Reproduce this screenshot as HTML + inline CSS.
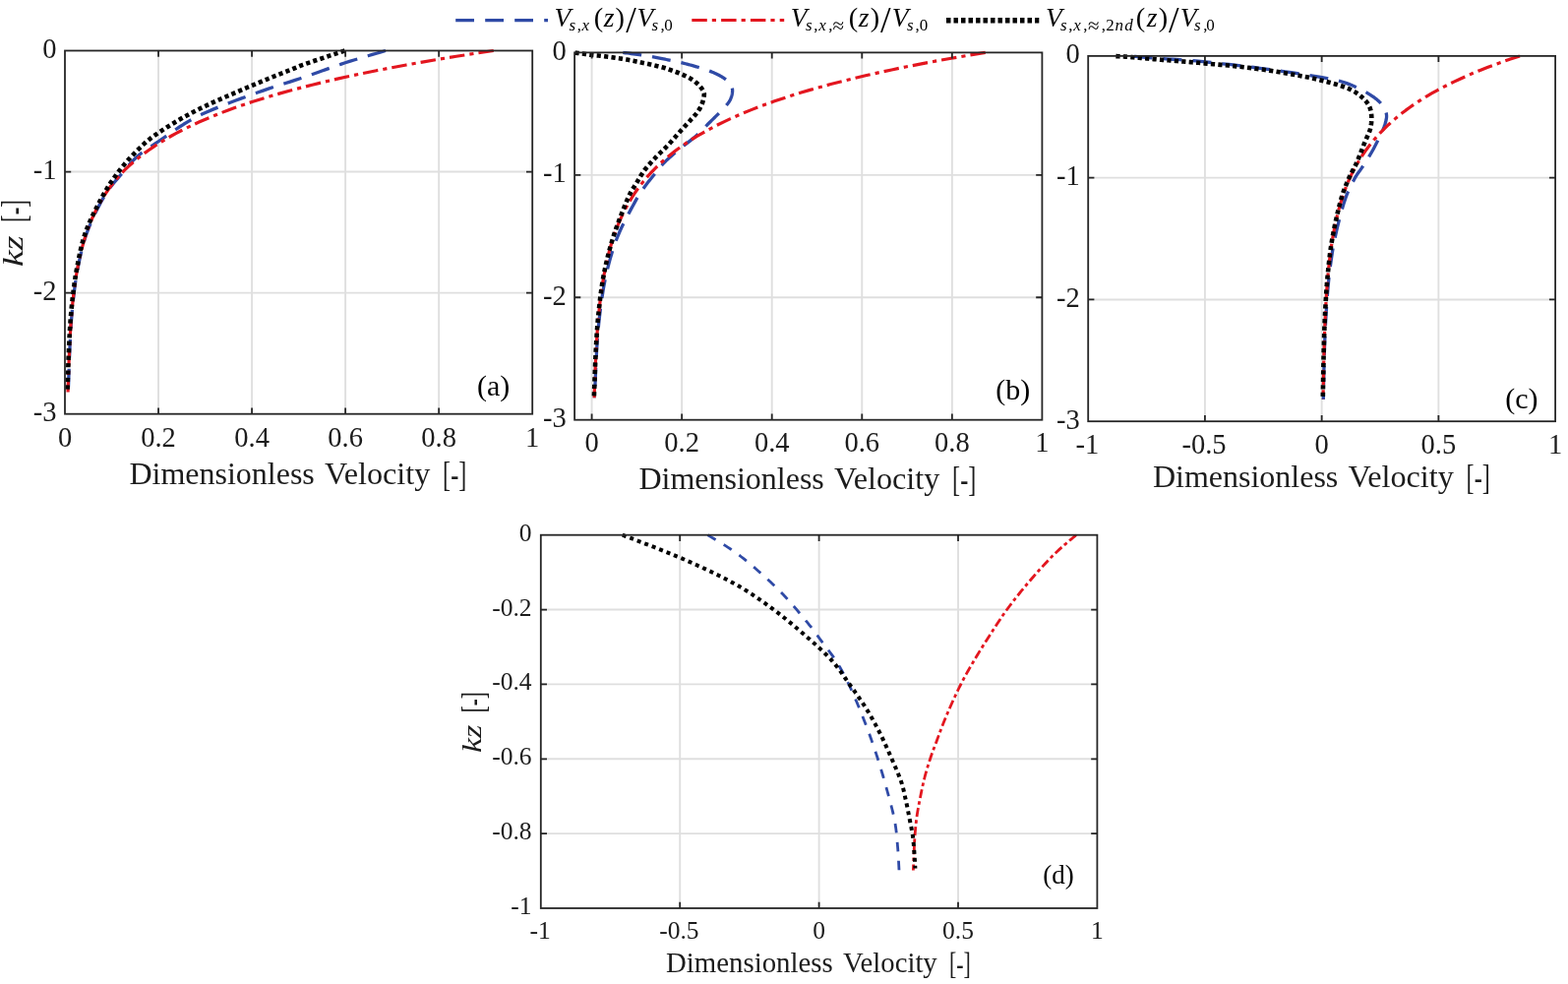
<!DOCTYPE html><html><head><meta charset="utf-8"><title>Dimensionless velocity profiles</title><style>html,body{margin:0;padding:0;background:#fff;}svg{display:block;}text{font-family:"Liberation Serif","DejaVu Serif",serif;fill:#1c1c1c;}</style></head><body>
<svg width="1594" height="1000" viewBox="0 0 1594 1000">
<rect width="1594" height="1000" fill="#fff"/>
<line x1="161.04" y1="51.5" x2="161.04" y2="420.7" stroke="#dfdfdf" stroke-width="1.9"/>
<line x1="256.08" y1="51.5" x2="256.08" y2="420.7" stroke="#dfdfdf" stroke-width="1.9"/>
<line x1="351.12" y1="51.5" x2="351.12" y2="420.7" stroke="#dfdfdf" stroke-width="1.9"/>
<line x1="446.16" y1="51.5" x2="446.16" y2="420.7" stroke="#dfdfdf" stroke-width="1.9"/>
<line x1="66" y1="174.57" x2="541.2" y2="174.57" stroke="#dfdfdf" stroke-width="1.9"/>
<line x1="66" y1="297.63" x2="541.2" y2="297.63" stroke="#dfdfdf" stroke-width="1.9"/>
<line x1="601.59" y1="53.4" x2="601.59" y2="426.7" stroke="#dfdfdf" stroke-width="1.9"/>
<line x1="693.15" y1="53.4" x2="693.15" y2="426.7" stroke="#dfdfdf" stroke-width="1.9"/>
<line x1="784.71" y1="53.4" x2="784.71" y2="426.7" stroke="#dfdfdf" stroke-width="1.9"/>
<line x1="876.28" y1="53.4" x2="876.28" y2="426.7" stroke="#dfdfdf" stroke-width="1.9"/>
<line x1="967.84" y1="53.4" x2="967.84" y2="426.7" stroke="#dfdfdf" stroke-width="1.9"/>
<line x1="584.1" y1="177.83" x2="1059.4" y2="177.83" stroke="#dfdfdf" stroke-width="1.9"/>
<line x1="584.1" y1="302.27" x2="1059.4" y2="302.27" stroke="#dfdfdf" stroke-width="1.9"/>
<line x1="1224.92" y1="56.9" x2="1224.92" y2="428.2" stroke="#dfdfdf" stroke-width="1.9"/>
<line x1="1343.65" y1="56.9" x2="1343.65" y2="428.2" stroke="#dfdfdf" stroke-width="1.9"/>
<line x1="1462.38" y1="56.9" x2="1462.38" y2="428.2" stroke="#dfdfdf" stroke-width="1.9"/>
<line x1="1106.2" y1="180.67" x2="1581.1" y2="180.67" stroke="#dfdfdf" stroke-width="1.9"/>
<line x1="1106.2" y1="304.43" x2="1581.1" y2="304.43" stroke="#dfdfdf" stroke-width="1.9"/>
<line x1="691.2" y1="543.7" x2="691.2" y2="923" stroke="#dfdfdf" stroke-width="1.9"/>
<line x1="832.6" y1="543.7" x2="832.6" y2="923" stroke="#dfdfdf" stroke-width="1.9"/>
<line x1="974" y1="543.7" x2="974" y2="923" stroke="#dfdfdf" stroke-width="1.9"/>
<line x1="549.8" y1="619.56" x2="1115.4" y2="619.56" stroke="#dfdfdf" stroke-width="1.9"/>
<line x1="549.8" y1="695.42" x2="1115.4" y2="695.42" stroke="#dfdfdf" stroke-width="1.9"/>
<line x1="549.8" y1="771.28" x2="1115.4" y2="771.28" stroke="#dfdfdf" stroke-width="1.9"/>
<line x1="549.8" y1="847.14" x2="1115.4" y2="847.14" stroke="#dfdfdf" stroke-width="1.9"/>
<path d="M392 51.5 L389.56 52.22 L386.42 53.14 L382.71 54.22 L378.55 55.44 L374.06 56.76 L369.37 58.15 L364.59 59.58 L359.86 61.02 L355.28 62.43 L351 63.8 L346.96 65.13 L343 66.47 L339.1 67.83 L335.21 69.2 L331.29 70.6 L327.31 72.02 L323.23 73.48 L319.01 74.98 L314.61 76.52 L310 78.1 L305.15 79.72 L300.11 81.38 L294.89 83.06 L289.54 84.78 L284.08 86.54 L278.55 88.34 L272.97 90.18 L267.38 92.07 L261.82 94.01 L256.3 96 L250.73 98.05 L245 100.16 L239.18 102.32 L233.32 104.52 L227.48 106.78 L221.7 109.06 L216.05 111.38 L210.58 113.73 L205.34 116.11 L200.4 118.5 L195.69 120.98 L191.12 123.58 L186.69 126.28 L182.43 129.01 L178.34 131.75 L174.42 134.45 L170.69 137.06 L167.15 139.56 L163.82 141.88 L160.7 144 L157.85 145.89 L155.28 147.58 L152.96 149.11 L150.84 150.52 L148.89 151.84 L147.06 153.12 L145.32 154.39 L143.62 155.68 L141.93 157.04 L140.2 158.5 L138.52 160 L136.96 161.47 L135.51 162.92 L134.12 164.38 L132.77 165.86 L131.43 167.4 L130.06 169.01 L128.64 170.72 L127.13 172.54 L125.5 174.5 L123.75 176.56 L121.91 178.69 L120.01 180.88 L118.05 183.16 L116.06 185.53 L114.05 188.01 L112.04 190.61 L110.06 193.33 L108.12 196.18 L106.23 199.18 L104.36 202.38 L102.45 205.79 L100.54 209.36 L98.63 213.07 L96.75 216.88 L94.92 220.75 L93.16 224.64 L91.49 228.53 L89.93 232.36 L88.5 236.1 L87.19 239.8 L86 243.49 L84.9 247.18 L83.89 250.87 L82.96 254.57 L82.09 258.26 L81.27 261.95 L80.49 265.64 L79.74 269.33 L79.01 273.03 L78.31 276.72 L77.67 280.41 L77.08 284.1 L76.54 287.79 L76.04 291.49 L75.58 295.18 L75.14 298.87 L74.72 302.56 L74.32 306.25 L73.93 309.95 L73.57 313.57 L73.24 317.09 L72.94 320.56 L72.67 324.01 L72.41 327.48 L72.18 331.04 L71.95 334.71 L71.73 338.54 L71.51 342.58 L71.29 346.87 L71.05 351.67 L70.82 357.09 L70.59 362.92 L70.37 368.96 L70.15 375.02 L69.95 380.89 L69.76 386.38 L69.6 391.29 L69.46 395.42 L69.35 398.56" fill="none" stroke="#2f4aa6" stroke-width="3.3" stroke-dasharray="19 11" stroke-dashoffset="0" stroke-linecap="butt" stroke-linejoin="round"/>
<path d="M501.76 51.5 L482.42 54.39 L463.91 57.28 L446.19 60.18 L429.23 63.07 L413.01 65.96 L397.48 68.85 L382.62 71.74 L368.41 74.64 L354.81 77.53 L341.8 80.42 L329.36 83.31 L317.45 86.2 L306.07 89.1 L295.19 91.99 L284.78 94.88 L274.83 97.77 L265.31 100.67 L256.22 103.56 L247.52 106.45 L239.21 109.34 L231.27 112.23 L223.68 115.13 L216.43 118.02 L209.5 120.91 L202.87 123.8 L196.55 126.69 L190.5 129.59 L184.73 132.48 L179.21 135.37 L173.95 138.26 L168.92 141.15 L164.12 144.05 L159.53 146.94 L155.15 149.83 L150.97 152.72 L146.98 155.61 L143.17 158.51 L139.54 161.4 L136.07 164.29 L132.76 167.18 L129.6 170.07 L126.58 172.97 L123.76 175.86 L121.13 178.75 L118.62 181.64 L116.23 184.54 L113.96 187.43 L111.78 190.32 L109.71 193.21 L107.73 196.1 L105.85 199 L104.05 201.89 L102.34 204.78 L100.7 207.67 L99.15 210.56 L97.66 213.46 L96.25 216.35 L94.9 219.24 L93.61 222.13 L92.38 225.02 L91.21 227.92 L90.1 230.81 L89.04 233.7 L88.03 236.59 L87.06 239.48 L86.14 242.38 L85.27 245.27 L84.43 248.16 L83.64 251.05 L82.88 253.94 L82.16 256.84 L81.47 259.73 L80.81 262.62 L80.19 265.51 L79.6 268.4 L79.03 271.3 L78.49 274.19 L77.98 277.08 L77.49 279.97 L77.03 282.87 L76.58 285.76 L76.16 288.65 L75.76 291.54 L75.38 294.43 L75.02 297.33 L74.67 300.22 L74.35 303.11 L74.03 306 L73.74 308.89 L73.46 311.79 L73.19 314.68 L72.93 317.57 L72.69 320.46 L72.46 323.35 L72.25 326.25 L72.04 329.14 L71.84 332.03 L71.66 334.92 L71.48 337.81 L71.31 340.71 L71.15 343.6 L71 346.49 L70.86 349.38 L70.73 352.27 L70.6 355.17 L70.48 358.06 L70.35 360.95 L70.22 363.84 L70.1 366.74 L69.98 369.63 L69.86 372.52 L69.75 375.41 L69.65 378.3 L69.55 381.2 L69.46 384.09 L69.37 386.98 L69.28 389.87 L69.2 392.76 L69.12 395.66 L69.05 398.55" fill="none" stroke="#e3161f" stroke-width="3.2" stroke-dasharray="15.5 5 4.2 5.1" stroke-dashoffset="0" stroke-linecap="butt" stroke-linejoin="round"/>
<path d="M350.5 51.5 L347.95 52.35 L344.5 53.5 L340.37 54.88 L335.75 56.42 L330.88 58.05 L325.95 59.7 L321.18 61.3 L316.8 62.78 L313 64.07 L310 65.1 L307.92 65.83 L306.59 66.3 L305.82 66.57 L305.42 66.73 L305.2 66.84 L304.96 66.97 L304.52 67.2 L303.67 67.58 L302.23 68.19 L300 69.1 L297.05 70.28 L293.61 71.65 L289.75 73.17 L285.53 74.84 L281.02 76.64 L276.28 78.54 L271.37 80.52 L266.36 82.57 L261.32 84.67 L256.3 86.8 L251.13 89.01 L245.64 91.36 L239.92 93.81 L234.04 96.35 L228.1 98.94 L222.18 101.56 L216.36 104.19 L210.74 106.79 L205.39 109.33 L200.4 111.8 L195.69 114.23 L191.12 116.68 L186.69 119.14 L182.43 121.58 L178.34 124 L174.42 126.38 L170.69 128.7 L167.15 130.96 L163.82 133.13 L160.7 135.2 L157.87 137.14 L155.36 138.92 L153.11 140.6 L151.08 142.21 L149.2 143.77 L147.42 145.33 L145.69 146.91 L143.94 148.56 L142.13 150.31 L140.2 152.2 L138.18 154.2 L136.16 156.27 L134.13 158.4 L132.11 160.58 L130.1 162.82 L128.11 165.1 L126.15 167.41 L124.22 169.75 L122.34 172.12 L120.5 174.5 L118.72 176.87 L117 179.23 L115.33 181.58 L113.69 183.96 L112.08 186.39 L110.48 188.88 L108.89 191.47 L107.28 194.17 L105.66 197.01 L104 200 L102.28 203.18 L100.5 206.53 L98.68 210.03 L96.84 213.64 L95.02 217.34 L93.24 221.1 L91.52 224.88 L89.88 228.66 L88.37 232.41 L87 236.1 L85.76 239.76 L84.64 243.44 L83.61 247.12 L82.67 250.81 L81.81 254.51 L81 258.22 L80.24 261.92 L79.51 265.63 L78.8 269.33 L78.11 273.03 L77.43 276.72 L76.81 280.41 L76.23 284.1 L75.69 287.79 L75.18 291.49 L74.71 295.18 L74.26 298.87 L73.83 302.56 L73.43 306.25 L73.03 309.95 L72.67 313.57 L72.34 317.09 L72.04 320.56 L71.77 324.01 L71.51 327.48 L71.28 331.04 L71.05 334.71 L70.83 338.54 L70.61 342.58 L70.39 346.87 L70.15 351.67 L69.92 357.09 L69.69 362.92 L69.47 368.96 L69.25 375.02 L69.05 380.89 L68.86 386.38 L68.7 391.29 L68.56 395.42 L68.45 398.56" fill="none" stroke="#000000" stroke-width="4.6" stroke-dasharray="4.2 3.25" stroke-dashoffset="0" stroke-linecap="butt" stroke-linejoin="round"/>
<path d="M633.3 53.4 L634.41 53.55 L635.88 53.74 L637.63 53.96 L639.59 54.22 L641.68 54.49 L643.83 54.77 L645.96 55.05 L648 55.32 L649.87 55.57 L651.5 55.8 L652.91 56 L654.2 56.19 L655.4 56.36 L656.51 56.52 L657.58 56.69 L658.61 56.85 L659.65 57.02 L660.71 57.2 L661.82 57.39 L663 57.6 L664.23 57.82 L665.46 58.06 L666.7 58.3 L667.95 58.54 L669.22 58.8 L670.51 59.06 L671.83 59.34 L673.18 59.62 L674.57 59.9 L676 60.2 L677.48 60.5 L679.01 60.82 L680.58 61.14 L682.18 61.46 L683.81 61.8 L685.46 62.14 L687.11 62.5 L688.75 62.86 L690.39 63.22 L692 63.6 L693.6 63.98 L695.2 64.37 L696.8 64.76 L698.4 65.16 L700 65.58 L701.6 66 L703.2 66.43 L704.8 66.87 L706.4 67.33 L708 67.8 L709.62 68.29 L711.26 68.79 L712.92 69.3 L714.58 69.83 L716.24 70.36 L717.87 70.91 L719.48 71.47 L721.04 72.04 L722.55 72.61 L724 73.2 L725.4 73.8 L726.77 74.41 L728.12 75.03 L729.42 75.67 L730.69 76.31 L731.91 76.96 L733.07 77.62 L734.18 78.28 L735.22 78.94 L736.2 79.6 L737.11 80.26 L737.96 80.94 L738.74 81.62 L739.47 82.3 L740.15 82.99 L740.77 83.68 L741.35 84.36 L741.88 85.05 L742.36 85.73 L742.8 86.4 L743.2 87.06 L743.54 87.69 L743.84 88.31 L744.09 88.92 L744.29 89.54 L744.44 90.17 L744.55 90.82 L744.61 91.5 L744.63 92.23 L744.6 93 L744.53 93.82 L744.42 94.69 L744.27 95.6 L744.07 96.54 L743.83 97.5 L743.53 98.48 L743.18 99.46 L742.78 100.45 L742.32 101.43 L741.8 102.4 L741.22 103.35 L740.58 104.29 L739.88 105.22 L739.13 106.15 L738.32 107.09 L737.47 108.04 L736.57 109.03 L735.62 110.04 L734.63 111.1 L733.6 112.2 L732.51 113.36 L731.33 114.57 L730.1 115.82 L728.81 117.1 L727.49 118.41 L726.14 119.74 L724.78 121.07 L723.43 122.39 L722.1 123.71 L720.8 125 L719.53 126.28 L718.29 127.56 L717.06 128.84 L715.83 130.12 L714.6 131.41 L713.35 132.69 L712.08 133.97 L710.76 135.25 L709.41 136.52 L708 137.8 L706.53 139.07 L705 140.33 L703.44 141.58 L701.83 142.82 L700.2 144.08 L698.55 145.33 L696.9 146.6 L695.25 147.88 L693.61 149.18 L692 150.5 L690.38 151.85 L688.72 153.23 L687.05 154.63 L685.37 156.04 L683.7 157.46 L682.05 158.89 L680.45 160.31 L678.89 161.72 L677.41 163.12 L676 164.5 L674.68 165.86 L673.43 167.22 L672.24 168.58 L671.1 169.92 L670 171.26 L668.93 172.59 L667.89 173.91 L666.86 175.22 L665.83 176.52 L664.8 177.8 L663.77 179.06 L662.76 180.29 L661.77 181.5 L660.8 182.7 L659.84 183.89 L658.9 185.09 L657.96 186.29 L657.04 187.5 L656.12 188.74 L655.2 190 L654.34 191.19 L653.56 192.23 L652.83 193.2 L652.13 194.16 L651.41 195.17 L650.64 196.31 L649.8 197.63 L648.85 199.21 L647.76 201.11 L646.5 203.4 L645.01 206.12 L643.31 209.23 L641.44 212.66 L639.46 216.35 L637.41 220.23 L635.35 224.22 L633.33 228.27 L631.39 232.3 L629.6 236.25 L627.99 240.05 L626.54 243.75 L625.18 247.47 L623.9 251.19 L622.69 254.93 L621.55 258.67 L620.47 262.41 L619.44 266.15 L618.46 269.9 L617.53 273.64 L616.63 277.37 L615.78 281.11 L615 284.84 L614.28 288.57 L613.61 292.31 L612.99 296.04 L612.41 299.77 L611.86 303.5 L611.33 307.24 L610.83 310.97 L610.34 314.7 L609.87 318.37 L609.44 321.93 L609.05 325.43 L608.69 328.92 L608.35 332.43 L608.03 336.03 L607.72 339.74 L607.43 343.61 L607.13 347.69 L606.84 352.03 L606.55 356.89 L606.25 362.36 L605.96 368.26 L605.68 374.37 L605.42 380.5 L605.17 386.43 L604.94 391.99 L604.74 396.95 L604.57 401.12 L604.43 404.29" fill="none" stroke="#2f4aa6" stroke-width="3.3" stroke-dasharray="19 11" stroke-dashoffset="0" stroke-linecap="butt" stroke-linejoin="round"/>
<path d="M1001.72 53.4 L983.97 56.32 L967.02 59.25 L950.81 62.17 L935.33 65.1 L920.53 68.02 L906.39 70.95 L892.87 73.87 L879.96 76.79 L867.61 79.72 L855.82 82.64 L844.54 85.57 L833.77 88.49 L823.48 91.41 L813.64 94.34 L804.23 97.26 L795.25 100.19 L786.66 103.11 L778.45 106.04 L770.61 108.96 L763.12 111.88 L755.95 114.81 L749.11 117.73 L742.57 120.66 L736.32 123.58 L730.34 126.5 L724.63 129.43 L719.18 132.35 L713.96 135.28 L708.98 138.2 L704.22 141.13 L699.67 144.05 L695.32 146.97 L691.16 149.9 L687.19 152.82 L683.39 155.75 L679.77 158.67 L676.3 161.59 L672.99 164.52 L669.82 167.44 L666.8 170.37 L663.91 173.29 L661.14 176.22 L658.51 179.14 L656 182.06 L653.6 184.99 L651.3 187.91 L649.11 190.84 L647.02 193.76 L645.02 196.68 L643.11 199.61 L641.29 202.53 L639.55 205.46 L637.88 208.38 L636.29 211.31 L634.77 214.23 L633.32 217.15 L631.93 220.08 L630.61 223 L629.34 225.93 L628.13 228.85 L626.98 231.78 L625.87 234.7 L624.82 237.62 L623.81 240.55 L622.85 243.47 L621.93 246.4 L621.06 249.32 L620.22 252.24 L619.42 255.17 L618.66 258.09 L617.93 261.02 L617.23 263.94 L616.57 266.87 L615.93 269.79 L615.33 272.71 L614.75 275.64 L614.2 278.56 L613.67 281.49 L613.17 284.41 L612.68 287.33 L612.23 290.26 L611.79 293.18 L611.37 296.11 L610.97 299.03 L610.59 301.96 L610.23 304.88 L609.88 307.8 L609.55 310.73 L609.24 313.65 L608.94 316.58 L608.65 319.5 L608.37 322.42 L608.11 325.35 L607.86 328.27 L607.63 331.2 L607.4 334.12 L607.19 337.05 L606.98 339.97 L606.78 342.89 L606.6 345.82 L606.42 348.74 L606.25 351.67 L606.09 354.59 L605.94 357.52 L605.79 360.44 L605.65 363.36 L605.51 366.29 L605.37 369.21 L605.24 372.14 L605.11 375.06 L604.99 377.98 L604.88 380.91 L604.77 383.83 L604.66 386.76 L604.56 389.68 L604.46 392.61 L604.37 395.53 L604.28 398.45 L604.2 401.38 L604.12 404.3" fill="none" stroke="#e3161f" stroke-width="3.2" stroke-dasharray="15.5 5 4.2 5.1" stroke-dashoffset="0" stroke-linecap="butt" stroke-linejoin="round"/>
<path d="M584.5 53.6 L585.02 53.67 L585.7 53.75 L586.51 53.85 L587.41 53.96 L588.38 54.08 L589.39 54.21 L590.4 54.34 L591.4 54.46 L592.34 54.59 L593.2 54.7 L594 54.81 L594.78 54.93 L595.54 55.04 L596.29 55.16 L597.03 55.27 L597.76 55.39 L598.49 55.5 L599.22 55.61 L599.96 55.71 L600.7 55.8 L601.45 55.89 L602.2 55.96 L602.96 56.03 L603.71 56.1 L604.47 56.16 L605.22 56.22 L605.97 56.29 L606.72 56.35 L607.46 56.42 L608.2 56.5 L608.93 56.58 L609.65 56.67 L610.37 56.75 L611.08 56.84 L611.79 56.93 L612.51 57.02 L613.22 57.12 L613.94 57.21 L614.67 57.31 L615.4 57.4 L616.15 57.5 L616.9 57.59 L617.66 57.69 L618.43 57.79 L619.2 57.89 L619.97 58 L620.74 58.1 L621.5 58.2 L622.25 58.3 L623 58.4 L623.74 58.5 L624.47 58.6 L625.19 58.69 L625.91 58.79 L626.62 58.89 L627.34 58.99 L628.05 59.09 L628.77 59.19 L629.48 59.29 L630.2 59.4 L630.92 59.51 L631.64 59.62 L632.36 59.74 L633.08 59.86 L633.8 59.98 L634.52 60.1 L635.24 60.22 L635.96 60.34 L636.68 60.47 L637.4 60.6 L638.12 60.73 L638.84 60.86 L639.55 61 L640.27 61.14 L640.98 61.27 L641.7 61.42 L642.42 61.56 L643.14 61.7 L643.87 61.85 L644.6 62 L645.34 62.15 L646.08 62.31 L646.83 62.47 L647.59 62.63 L648.34 62.79 L649.1 62.96 L649.86 63.12 L650.61 63.28 L651.36 63.44 L652.1 63.6 L652.84 63.75 L653.57 63.9 L654.31 64.05 L655.04 64.2 L655.77 64.34 L656.5 64.49 L657.22 64.64 L657.95 64.79 L658.67 64.94 L659.4 65.1 L660.12 65.26 L660.84 65.43 L661.56 65.59 L662.27 65.76 L662.99 65.93 L663.7 66.1 L664.42 66.28 L665.14 66.45 L665.87 66.63 L666.6 66.8 L667.35 66.98 L668.11 67.15 L668.88 67.33 L669.66 67.51 L670.43 67.69 L671.2 67.87 L671.96 68.05 L672.7 68.23 L673.41 68.42 L674.1 68.6 L674.73 68.77 L675.28 68.93 L675.8 69.08 L676.28 69.23 L676.77 69.38 L677.28 69.55 L677.83 69.74 L678.46 69.95 L679.17 70.2 L680 70.5 L680.96 70.84 L682.03 71.22 L683.18 71.63 L684.41 72.06 L685.68 72.53 L686.98 73 L688.28 73.49 L689.57 73.99 L690.81 74.5 L692 75 L693.16 75.51 L694.32 76.03 L695.48 76.56 L696.64 77.1 L697.78 77.66 L698.9 78.22 L699.99 78.78 L701.04 79.35 L702.05 79.93 L703 80.5 L703.9 81.08 L704.77 81.66 L705.6 82.25 L706.39 82.84 L707.14 83.44 L707.87 84.04 L708.57 84.65 L709.24 85.26 L709.88 85.88 L710.5 86.5 L711.1 87.14 L711.69 87.79 L712.25 88.46 L712.79 89.14 L713.29 89.81 L713.76 90.48 L714.19 91.14 L714.58 91.79 L714.92 92.41 L715.2 93 L715.43 93.55 L715.6 94.05 L715.71 94.52 L715.79 94.96 L715.83 95.41 L715.83 95.86 L715.8 96.33 L715.75 96.83 L715.68 97.39 L715.6 98 L715.5 98.68 L715.38 99.41 L715.23 100.18 L715.06 100.98 L714.86 101.81 L714.63 102.66 L714.39 103.51 L714.11 104.35 L713.82 105.19 L713.5 106 L713.16 106.8 L712.8 107.59 L712.42 108.38 L712.01 109.18 L711.58 109.97 L711.12 110.76 L710.64 111.56 L710.12 112.37 L709.58 113.18 L709 114 L708.39 114.82 L707.74 115.64 L707.06 116.45 L706.35 117.27 L705.62 118.09 L704.86 118.93 L704.07 119.79 L703.27 120.66 L702.44 121.57 L701.6 122.5 L700.74 123.45 L699.87 124.41 L698.98 125.38 L698.07 126.37 L697.14 127.38 L696.18 128.42 L695.18 129.5 L694.16 130.62 L693.1 131.78 L692 133 L690.85 134.29 L689.64 135.66 L688.4 137.08 L687.11 138.56 L685.8 140.06 L684.47 141.57 L683.14 143.07 L681.81 144.56 L680.49 146.01 L679.2 147.4 L677.91 148.74 L676.61 150.06 L675.31 151.36 L674 152.64 L672.7 153.9 L671.4 155.16 L670.12 156.41 L668.86 157.67 L667.62 158.93 L666.4 160.2 L665.2 161.48 L664.01 162.76 L662.82 164.04 L661.65 165.32 L660.5 166.6 L659.37 167.88 L658.27 169.16 L657.21 170.44 L656.18 171.72 L655.2 173 L654.27 174.27 L653.41 175.51 L652.6 176.74 L651.82 177.97 L651.06 179.2 L650.32 180.45 L649.57 181.72 L648.81 183.04 L648.03 184.39 L647.2 185.8 L646.37 187.17 L645.55 188.44 L644.75 189.66 L643.94 190.9 L643.11 192.21 L642.24 193.64 L641.34 195.26 L640.37 197.13 L639.33 199.28 L638.2 201.8 L636.95 204.73 L635.57 208.04 L634.1 211.67 L632.56 215.54 L630.98 219.59 L629.4 223.75 L627.86 227.94 L626.37 232.1 L624.97 236.16 L623.69 240.05 L622.52 243.81 L621.4 247.57 L620.33 251.31 L619.31 255.04 L618.33 258.77 L617.41 262.49 L616.53 266.2 L615.69 269.92 L614.89 273.65 L614.13 277.37 L613.41 281.11 L612.76 284.84 L612.15 288.57 L611.59 292.31 L611.07 296.04 L610.58 299.77 L610.11 303.5 L609.67 307.24 L609.25 310.97 L608.84 314.7 L608.45 318.37 L608.09 321.93 L607.77 325.43 L607.47 328.92 L607.19 332.43 L606.93 336.03 L606.68 339.74 L606.43 343.61 L606.19 347.69 L605.94 352.03 L605.69 356.89 L605.44 362.36 L605.18 368.26 L604.94 374.37 L604.71 380.5 L604.49 386.43 L604.29 391.99 L604.11 396.95 L603.95 401.12 L603.83 404.29" fill="none" stroke="#000000" stroke-width="4.6" stroke-dasharray="4.2 3.25" stroke-dashoffset="0" stroke-linecap="butt" stroke-linejoin="round"/>
<path d="M1152.6 57.3 L1154.31 57.43 L1156.45 57.6 L1158.97 57.81 L1161.81 58.03 L1164.89 58.27 L1168.17 58.53 L1171.59 58.8 L1175.07 59.07 L1178.56 59.34 L1182 59.6 L1185.38 59.84 L1188.77 60.06 L1192.2 60.27 L1195.7 60.49 L1199.32 60.71 L1203.1 60.96 L1207.07 61.24 L1211.27 61.57 L1215.73 61.95 L1220.5 62.4 L1225.64 62.92 L1231.15 63.49 L1236.96 64.11 L1243.01 64.77 L1249.24 65.47 L1255.57 66.21 L1261.95 66.96 L1268.31 67.73 L1274.58 68.51 L1280.7 69.3 L1286.86 70.11 L1293.24 70.96 L1299.73 71.85 L1306.26 72.76 L1312.73 73.67 L1319.05 74.6 L1325.13 75.51 L1330.87 76.41 L1336.19 77.27 L1341 78.1 L1345.25 78.86 L1349.02 79.55 L1352.38 80.2 L1355.41 80.82 L1358.19 81.44 L1360.8 82.08 L1363.32 82.78 L1365.82 83.55 L1368.39 84.41 L1371.1 85.4 L1373.94 86.52 L1376.81 87.74 L1379.69 89.06 L1382.53 90.45 L1385.32 91.89 L1388.01 93.37 L1390.58 94.86 L1392.98 96.34 L1395.2 97.79 L1397.2 99.2 L1398.99 100.58 L1400.62 101.95 L1402.09 103.32 L1403.41 104.7 L1404.59 106.07 L1405.64 107.44 L1406.55 108.82 L1407.35 110.21 L1408.03 111.6 L1408.6 113 L1409.05 114.37 L1409.36 115.67 L1409.54 116.94 L1409.59 118.21 L1409.52 119.51 L1409.34 120.85 L1409.05 122.27 L1408.66 123.8 L1408.18 125.47 L1407.6 127.3 L1406.88 129.34 L1405.98 131.59 L1404.93 134 L1403.77 136.52 L1402.53 139.11 L1401.24 141.72 L1399.93 144.3 L1398.63 146.81 L1397.37 149.19 L1396.2 151.4 L1395.06 153.48 L1393.91 155.5 L1392.75 157.46 L1391.59 159.36 L1390.44 161.21 L1389.3 162.99 L1388.19 164.71 L1387.12 166.37 L1386.08 167.96 L1385.1 169.5 L1384.18 170.9 L1383.33 172.13 L1382.54 173.23 L1381.77 174.25 L1381.03 175.25 L1380.3 176.27 L1379.55 177.35 L1378.78 178.55 L1377.97 179.92 L1377.1 181.5 L1376.18 183.23 L1375.23 185 L1374.25 186.86 L1373.25 188.8 L1372.23 190.87 L1371.21 193.06 L1370.17 195.41 L1369.14 197.94 L1368.11 200.66 L1367.1 203.6 L1366.07 206.82 L1365.01 210.34 L1363.93 214.11 L1362.84 218.06 L1361.76 222.14 L1360.7 226.3 L1359.67 230.47 L1358.7 234.61 L1357.79 238.66 L1356.96 242.56 L1356.2 246.34 L1355.49 250.1 L1354.84 253.83 L1354.24 257.54 L1353.68 261.23 L1353.15 264.92 L1352.66 268.6 L1352.18 272.29 L1351.73 275.98 L1351.29 279.69 L1350.87 283.4 L1350.49 287.11 L1350.14 290.83 L1349.82 294.54 L1349.52 298.25 L1349.24 301.96 L1348.98 305.68 L1348.73 309.39 L1348.48 313.1 L1348.24 316.82 L1348.01 320.46 L1347.8 324.01 L1347.6 327.49 L1347.42 330.96 L1347.25 334.45 L1347.08 338.03 L1346.93 341.72 L1346.78 345.57 L1346.63 349.63 L1346.48 353.95 L1346.33 358.78 L1346.18 364.23 L1346.04 370.09 L1345.9 376.17 L1345.77 382.26 L1345.64 388.17 L1345.53 393.69 L1345.43 398.62 L1345.34 402.77 L1345.27 405.93" fill="none" stroke="#2f4aa6" stroke-width="3.3" stroke-dasharray="19 11" stroke-dashoffset="0" stroke-linecap="butt" stroke-linejoin="round"/>
<path d="M1545.01 56.9 L1536.21 59.81 L1527.79 62.72 L1519.72 65.63 L1512 68.53 L1504.61 71.44 L1497.53 74.35 L1490.76 77.26 L1484.28 80.17 L1478.07 83.08 L1472.14 85.99 L1466.45 88.89 L1461.02 91.8 L1455.81 94.71 L1450.84 97.62 L1446.07 100.53 L1441.52 103.44 L1437.16 106.34 L1432.99 109.25 L1429 112.16 L1425.19 115.07 L1421.54 117.98 L1418.05 120.89 L1414.71 123.8 L1411.52 126.7 L1408.47 129.61 L1405.55 132.52 L1402.76 135.43 L1400.09 138.34 L1397.54 141.25 L1395.11 144.16 L1392.78 147.06 L1390.55 149.97 L1388.42 152.88 L1386.39 155.79 L1384.44 158.7 L1382.59 161.61 L1380.81 164.52 L1379.11 167.42 L1377.49 170.33 L1375.94 173.24 L1374.47 176.15 L1373.05 179.06 L1371.72 181.97 L1370.47 184.87 L1369.28 187.78 L1368.14 190.69 L1367.06 193.6 L1366.02 196.51 L1365.03 199.42 L1364.09 202.33 L1363.18 205.23 L1362.32 208.14 L1361.5 211.05 L1360.71 213.96 L1359.96 216.87 L1359.25 219.78 L1358.56 222.69 L1357.91 225.59 L1357.29 228.5 L1356.69 231.41 L1356.13 234.32 L1355.58 237.23 L1355.07 240.14 L1354.57 243.05 L1354.1 245.95 L1353.65 248.86 L1353.22 251.77 L1352.82 254.68 L1352.42 257.59 L1352.05 260.5 L1351.7 263.4 L1351.36 266.31 L1351.03 269.22 L1350.73 272.13 L1350.43 275.04 L1350.15 277.95 L1349.88 280.86 L1349.63 283.76 L1349.38 286.67 L1349.15 289.58 L1348.93 292.49 L1348.72 295.4 L1348.52 298.31 L1348.33 301.22 L1348.14 304.12 L1347.97 307.03 L1347.8 309.94 L1347.65 312.85 L1347.5 315.76 L1347.35 318.67 L1347.22 321.58 L1347.09 324.48 L1346.96 327.39 L1346.85 330.3 L1346.73 333.21 L1346.63 336.12 L1346.53 339.03 L1346.43 341.93 L1346.34 344.84 L1346.25 347.75 L1346.17 350.66 L1346.09 353.57 L1346.01 356.48 L1345.94 359.39 L1345.87 362.29 L1345.81 365.2 L1345.74 368.11 L1345.68 371.02 L1345.61 373.93 L1345.55 376.84 L1345.49 379.75 L1345.44 382.65 L1345.39 385.56 L1345.33 388.47 L1345.29 391.38 L1345.24 394.29 L1345.2 397.2 L1345.15 400.1 L1345.11 403.01 L1345.07 405.92" fill="none" stroke="#e3161f" stroke-width="3.2" stroke-dasharray="15.5 5 4.2 5.1" stroke-dashoffset="0" stroke-linecap="butt" stroke-linejoin="round"/>
<path d="M1134.4 57.1 L1135.28 57.15 L1136.41 57.22 L1137.75 57.29 L1139.24 57.38 L1140.86 57.47 L1142.56 57.57 L1144.28 57.67 L1145.99 57.78 L1147.65 57.89 L1149.2 58 L1150.69 58.11 L1152.19 58.23 L1153.69 58.36 L1155.2 58.49 L1156.7 58.62 L1158.2 58.76 L1159.71 58.9 L1161.21 59.03 L1162.71 59.17 L1164.2 59.3 L1165.69 59.43 L1167.17 59.56 L1168.65 59.69 L1170.12 59.82 L1171.6 59.96 L1173.08 60.09 L1174.55 60.22 L1176.03 60.35 L1177.51 60.47 L1179 60.6 L1180.49 60.72 L1181.99 60.85 L1183.49 60.97 L1185 61.09 L1186.5 61.21 L1188 61.32 L1189.51 61.44 L1191.01 61.56 L1192.51 61.68 L1194 61.8 L1195.48 61.92 L1196.96 62.04 L1198.43 62.15 L1199.89 62.27 L1201.36 62.39 L1202.82 62.51 L1204.3 62.63 L1205.79 62.75 L1207.28 62.87 L1208.8 63 L1210.24 63.12 L1211.56 63.24 L1212.8 63.34 L1214.04 63.45 L1215.32 63.56 L1216.71 63.69 L1218.26 63.83 L1220.04 63.99 L1222.1 64.18 L1224.5 64.4 L1227.27 64.65 L1230.35 64.92 L1233.7 65.21 L1237.27 65.52 L1241.02 65.84 L1244.89 66.19 L1248.83 66.56 L1252.79 66.95 L1256.73 67.37 L1260.6 67.8 L1264.45 68.25 L1268.38 68.73 L1272.36 69.22 L1276.38 69.74 L1280.44 70.27 L1284.52 70.83 L1288.61 71.41 L1292.69 72.02 L1296.76 72.65 L1300.8 73.3 L1304.87 73.98 L1309 74.69 L1313.18 75.43 L1317.36 76.19 L1321.53 76.97 L1325.65 77.78 L1329.68 78.59 L1333.61 79.42 L1337.39 80.26 L1341 81.1 L1344.48 81.95 L1347.89 82.81 L1351.22 83.67 L1354.44 84.56 L1357.56 85.45 L1360.56 86.36 L1363.42 87.29 L1366.14 88.24 L1368.71 89.21 L1371.1 90.2 L1373.31 91.22 L1375.35 92.27 L1377.24 93.34 L1378.97 94.42 L1380.57 95.53 L1382.06 96.65 L1383.44 97.78 L1384.73 98.92 L1385.95 100.06 L1387.1 101.2 L1388.16 102.33 L1389.12 103.44 L1389.96 104.54 L1390.71 105.65 L1391.36 106.77 L1391.94 107.92 L1392.44 109.1 L1392.88 110.34 L1393.26 111.63 L1393.6 113 L1393.88 114.45 L1394.09 115.98 L1394.22 117.57 L1394.3 119.21 L1394.3 120.88 L1394.24 122.58 L1394.12 124.28 L1393.94 125.98 L1393.7 127.66 L1393.4 129.3 L1393.02 130.9 L1392.56 132.47 L1392.01 134.02 L1391.4 135.56 L1390.74 137.11 L1390.04 138.68 L1389.31 140.28 L1388.57 141.93 L1387.83 143.63 L1387.1 145.4 L1386.37 147.27 L1385.61 149.23 L1384.82 151.27 L1384.02 153.35 L1383.21 155.46 L1382.38 157.56 L1381.55 159.65 L1380.73 161.68 L1379.91 163.64 L1379.1 165.5 L1378.3 167.24 L1377.5 168.86 L1376.7 170.41 L1375.9 171.9 L1375.11 173.38 L1374.31 174.86 L1373.51 176.38 L1372.71 177.98 L1371.9 179.67 L1371.1 181.5 L1370.3 183.39 L1369.5 185.26 L1368.69 187.15 L1367.89 189.09 L1367.09 191.12 L1366.28 193.25 L1365.47 195.54 L1364.66 198 L1363.83 200.68 L1363 203.6 L1362.14 206.82 L1361.24 210.34 L1360.32 214.11 L1359.39 218.06 L1358.46 222.14 L1357.55 226.3 L1356.67 230.47 L1355.84 234.61 L1355.06 238.66 L1354.36 242.56 L1353.72 246.34 L1353.13 250.1 L1352.6 253.83 L1352.1 257.54 L1351.64 261.23 L1351.21 264.92 L1350.81 268.6 L1350.42 272.29 L1350.05 275.98 L1349.69 279.69 L1349.34 283.4 L1349.03 287.11 L1348.73 290.83 L1348.46 294.54 L1348.21 298.25 L1347.98 301.96 L1347.75 305.68 L1347.54 309.39 L1347.34 313.1 L1347.14 316.82 L1346.96 320.46 L1346.79 324.01 L1346.64 327.49 L1346.5 330.96 L1346.36 334.45 L1346.24 338.03 L1346.12 341.72 L1346.01 345.57 L1345.9 349.63 L1345.78 353.95 L1345.66 358.78 L1345.54 364.23 L1345.42 370.09 L1345.3 376.17 L1345.19 382.26 L1345.09 388.17 L1344.99 393.69 L1344.9 398.62 L1344.83 402.77 L1344.77 405.93" fill="none" stroke="#000000" stroke-width="4.6" stroke-dasharray="4.2 3.25" stroke-dashoffset="0" stroke-linecap="butt" stroke-linejoin="round"/>
<path d="M719.4 543.7 L720.98 544.66 L723.01 545.87 L725.42 547.3 L728.13 548.9 L731.04 550.64 L734.07 552.49 L737.15 554.39 L740.19 556.32 L743.1 558.24 L745.8 560.1 L748.36 561.94 L750.89 563.82 L753.4 565.74 L755.89 567.7 L758.38 569.69 L760.85 571.72 L763.33 573.78 L765.81 575.88 L768.3 578.02 L770.8 580.2 L773.31 582.41 L775.83 584.64 L778.35 586.91 L780.88 589.21 L783.4 591.55 L785.92 593.94 L788.45 596.37 L790.97 598.85 L793.49 601.4 L796 604 L798.55 606.72 L801.17 609.6 L803.83 612.58 L806.49 615.62 L809.13 618.69 L811.72 621.74 L814.23 624.72 L816.64 627.61 L818.9 630.35 L821 632.9 L822.91 635.26 L824.66 637.46 L826.26 639.54 L827.76 641.51 L829.17 643.42 L830.54 645.28 L831.89 647.14 L833.24 649 L834.64 650.92 L836.1 652.9 L837.61 654.91 L839.12 656.89 L840.64 658.85 L842.16 660.81 L843.67 662.79 L845.18 664.81 L846.68 666.87 L848.17 668.99 L849.64 671.2 L851.1 673.5 L852.53 675.87 L853.93 678.27 L855.32 680.72 L856.69 683.22 L858.05 685.79 L859.41 688.43 L860.78 691.17 L862.17 694 L863.57 696.94 L865 700 L866.47 703.22 L867.98 706.62 L869.51 710.16 L871.06 713.81 L872.62 717.53 L874.16 721.29 L875.69 725.05 L877.17 728.78 L878.62 732.44 L880 736 L881.33 739.48 L882.62 742.93 L883.88 746.35 L885.11 749.74 L886.31 753.12 L887.49 756.5 L888.64 759.86 L889.78 763.23 L890.89 766.61 L892 770 L893.09 773.42 L894.17 776.86 L895.23 780.33 L896.26 783.79 L897.28 787.25 L898.28 790.69 L899.25 794.09 L900.19 797.46 L901.11 800.76 L902 804 L902.87 807.18 L903.73 810.32 L904.58 813.42 L905.4 816.48 L906.19 819.5 L906.94 822.48 L907.66 825.42 L908.33 828.32 L908.94 831.18 L909.5 834 L909.99 836.77 L910.41 839.48 L910.78 842.14 L911.1 844.76 L911.38 847.34 L911.62 849.9 L911.85 852.44 L912.07 854.96 L912.28 857.48 L912.5 860 L912.72 862.62 L912.92 865.39 L913.11 868.23 L913.28 871.08 L913.44 873.88 L913.58 876.54 L913.71 879 L913.82 881.19 L913.92 883.05 L914 884.5" fill="none" stroke="#2f4aa6" stroke-width="2.8" stroke-dasharray="9.5 9.5" stroke-dashoffset="0" stroke-linecap="butt" stroke-linejoin="round"/>
<path d="M1094 543.7 L1092.7 544.82 L1091.04 546.22 L1089.08 547.86 L1086.88 549.71 L1084.5 551.73 L1082 553.87 L1079.44 556.11 L1076.88 558.4 L1074.38 560.71 L1072 563 L1069.68 565.31 L1067.33 567.71 L1064.95 570.18 L1062.54 572.73 L1060.12 575.33 L1057.7 577.99 L1055.26 580.69 L1052.83 583.44 L1050.41 586.21 L1048 589 L1045.58 591.84 L1043.14 594.74 L1040.67 597.71 L1038.21 600.71 L1035.75 603.75 L1033.31 606.81 L1030.91 609.87 L1028.54 612.94 L1026.24 615.98 L1024 619 L1021.82 622.02 L1019.68 625.06 L1017.58 628.13 L1015.52 631.19 L1013.5 634.25 L1011.52 637.29 L1009.58 640.29 L1007.68 643.26 L1005.82 646.16 L1004 649 L1002.22 651.79 L1000.46 654.55 L998.75 657.28 L997.07 659.98 L995.44 662.62 L993.85 665.22 L992.31 667.77 L990.82 670.25 L989.38 672.66 L988 675 L986.69 677.24 L985.46 679.38 L984.29 681.44 L983.17 683.43 L982.09 685.38 L981.05 687.29 L980.03 689.19 L979.02 691.1 L978.02 693.03 L977 695 L975.98 697 L974.99 699 L974.01 701 L973.04 703 L972.09 705 L971.16 707 L970.23 709 L969.31 711 L968.4 713 L967.5 715 L966.61 717 L965.72 719 L964.84 721 L963.98 723 L963.12 725 L962.28 727 L961.45 729 L960.62 731 L959.8 733 L959 735 L958.2 737.02 L957.4 739.08 L956.61 741.16 L955.83 743.24 L955.06 745.31 L954.31 747.36 L953.57 749.37 L952.86 751.32 L952.16 753.2 L951.5 755 L950.87 756.68 L950.28 758.24 L949.72 759.71 L949.18 761.12 L948.66 762.5 L948.14 763.88 L947.62 765.29 L947.1 766.76 L946.56 768.32 L946 770 L945.41 771.8 L944.81 773.68 L944.19 775.63 L943.56 777.64 L942.93 779.69 L942.31 781.76 L941.7 783.84 L941.11 785.92 L940.54 787.98 L940 790 L939.49 792 L939 794 L938.54 796 L938.09 798 L937.65 800 L937.23 802 L936.81 804 L936.4 806 L936 808 L935.6 810 L935.2 812 L934.8 814 L934.41 816 L934.03 818 L933.65 820 L933.29 822 L932.94 824 L932.6 826 L932.29 828 L932 830 L931.73 832 L931.48 834 L931.25 836 L931.04 838 L930.84 840 L930.65 842 L930.48 844 L930.31 846 L930.15 848 L930 850 L929.86 852.02 L929.73 854.09 L929.61 856.17 L929.51 858.26 L929.41 860.34 L929.32 862.4 L929.24 864.4 L929.16 866.35 L929.08 868.22 L929 870 L928.92 871.74 L928.84 873.48 L928.77 875.21 L928.7 876.89 L928.64 878.5 L928.58 880.01 L928.52 881.39 L928.48 882.62 L928.43 883.66 L928.4 884.5" fill="none" stroke="#e3161f" stroke-width="2.8" stroke-dasharray="9 3.3 3.6 3.3" stroke-dashoffset="0" stroke-linecap="butt" stroke-linejoin="round"/>
<path d="M632.8 543.7 L636.24 545.03 L640.69 546.73 L645.94 548.73 L651.84 550.97 L658.19 553.41 L664.82 555.97 L671.55 558.61 L678.19 561.27 L684.57 563.88 L690.5 566.4 L696.2 568.88 L701.96 571.43 L707.75 574.02 L713.52 576.66 L719.25 579.32 L724.89 582 L730.4 584.69 L735.75 587.38 L740.9 590.05 L745.8 592.7 L750.45 595.33 L754.87 597.94 L759.1 600.54 L763.17 603.14 L767.11 605.74 L770.95 608.36 L774.72 611 L778.44 613.66 L782.16 616.36 L785.9 619.1 L789.66 621.9 L793.4 624.78 L797.11 627.72 L800.78 630.68 L804.39 633.66 L807.92 636.62 L811.36 639.54 L814.7 642.42 L817.92 645.21 L821 647.9 L823.95 650.49 L826.78 652.99 L829.49 655.42 L832.11 657.8 L834.62 660.14 L837.06 662.45 L839.41 664.76 L841.7 667.08 L843.93 669.42 L846.1 671.8 L848.19 674.21 L850.16 676.62 L852.04 679.04 L853.85 681.47 L855.59 683.89 L857.29 686.32 L858.96 688.75 L860.62 691.17 L862.3 693.59 L864 696 L865.72 698.41 L867.44 700.81 L869.15 703.21 L870.84 705.61 L872.52 708.01 L874.18 710.41 L875.81 712.81 L877.41 715.2 L878.98 717.6 L880.5 720 L881.98 722.39 L883.42 724.77 L884.82 727.14 L886.19 729.5 L887.53 731.88 L888.85 734.26 L890.15 736.65 L891.44 739.07 L892.72 741.52 L894 744 L895.27 746.53 L896.53 749.1 L897.77 751.72 L899 754.35 L900.22 757 L901.42 759.65 L902.59 762.28 L903.75 764.9 L904.89 767.47 L906 770 L907.1 772.5 L908.21 774.99 L909.3 777.47 L910.38 779.94 L911.44 782.38 L912.46 784.78 L913.43 787.16 L914.35 789.49 L915.21 791.77 L916 794 L916.71 796.16 L917.34 798.26 L917.9 800.29 L918.41 802.29 L918.88 804.25 L919.31 806.19 L919.73 808.13 L920.14 810.06 L920.56 812.02 L921 814 L921.45 816.02 L921.88 818.06 L922.31 820.13 L922.72 822.19 L923.12 824.25 L923.52 826.29 L923.9 828.29 L924.28 830.26 L924.64 832.16 L925 834 L925.35 835.76 L925.69 837.46 L926.02 839.09 L926.35 840.69 L926.66 842.25 L926.96 843.79 L927.25 845.33 L927.52 846.86 L927.77 848.42 L928 850 L928.21 851.6 L928.39 853.19 L928.55 854.78 L928.69 856.38 L928.83 857.97 L928.95 859.56 L929.06 861.16 L929.17 862.77 L929.28 864.38 L929.4 866 L929.52 867.7 L929.64 869.53 L929.76 871.43 L929.88 873.36 L929.99 875.25 L930.09 877.06 L930.19 878.75 L930.27 880.25 L930.34 881.52 L930.4 882.5" fill="none" stroke="#000000" stroke-width="4.0" stroke-dasharray="4 4" stroke-dashoffset="0" stroke-linecap="butt" stroke-linejoin="round"/>
<rect x="66" y="51.5" width="475.2" height="369.2" fill="none" stroke="#262626" stroke-width="1.8"/>
<path d="M161.04 420.7v-6.2 M161.04 51.5v6.2 M256.08 420.7v-6.2 M256.08 51.5v6.2 M351.12 420.7v-6.2 M351.12 51.5v6.2 M446.16 420.7v-6.2 M446.16 51.5v6.2 M66 174.57h6.2 M541.2 174.57h-6.2 M66 297.63h6.2 M541.2 297.63h-6.2 " stroke="#262626" stroke-width="1.8" fill="none"/>
<rect x="584.1" y="53.4" width="475.3" height="373.3" fill="none" stroke="#262626" stroke-width="1.8"/>
<path d="M601.59 426.7v-6.2 M601.59 53.4v6.2 M693.15 426.7v-6.2 M693.15 53.4v6.2 M784.71 426.7v-6.2 M784.71 53.4v6.2 M876.28 426.7v-6.2 M876.28 53.4v6.2 M967.84 426.7v-6.2 M967.84 53.4v6.2 M584.1 177.83h6.2 M1059.4 177.83h-6.2 M584.1 302.27h6.2 M1059.4 302.27h-6.2 " stroke="#262626" stroke-width="1.8" fill="none"/>
<rect x="1106.2" y="56.9" width="474.9" height="371.3" fill="none" stroke="#262626" stroke-width="1.8"/>
<path d="M1224.92 428.2v-6.2 M1224.92 56.9v6.2 M1343.65 428.2v-6.2 M1343.65 56.9v6.2 M1462.38 428.2v-6.2 M1462.38 56.9v6.2 M1106.2 180.67h6.2 M1581.1 180.67h-6.2 M1106.2 304.43h6.2 M1581.1 304.43h-6.2 " stroke="#262626" stroke-width="1.8" fill="none"/>
<rect x="549.8" y="543.7" width="565.6" height="379.3" fill="none" stroke="#262626" stroke-width="1.8"/>
<path d="M691.2 923v-6.2 M691.2 543.7v6.2 M832.6 923v-6.2 M832.6 543.7v6.2 M974 923v-6.2 M974 543.7v6.2 M549.8 619.56h6.2 M1115.4 619.56h-6.2 M549.8 695.42h6.2 M1115.4 695.42h-6.2 M549.8 771.28h6.2 M1115.4 771.28h-6.2 M549.8 847.14h6.2 M1115.4 847.14h-6.2 " stroke="#262626" stroke-width="1.8" fill="none"/>
<text x="66" y="453.7" font-size="28.5" text-anchor="middle">0</text>
<text x="161.04" y="453.7" font-size="28.5" text-anchor="middle">0.2</text>
<text x="256.08" y="453.7" font-size="28.5" text-anchor="middle">0.4</text>
<text x="351.12" y="453.7" font-size="28.5" text-anchor="middle">0.6</text>
<text x="446.16" y="453.7" font-size="28.5" text-anchor="middle">0.8</text>
<text x="541.2" y="453.7" font-size="28.5" text-anchor="middle">1</text>
<text x="57.6" y="58.8" font-size="28.5" text-anchor="end">0</text>
<text x="57.6" y="181.87" font-size="28.5" text-anchor="end">-1</text>
<text x="57.6" y="304.93" font-size="28.5" text-anchor="end">-2</text>
<text x="57.6" y="428" font-size="28.5" text-anchor="end">-3</text>
<text x="601.59" y="459.4" font-size="28.5" text-anchor="middle">0</text>
<text x="693.15" y="459.4" font-size="28.5" text-anchor="middle">0.2</text>
<text x="784.71" y="459.4" font-size="28.5" text-anchor="middle">0.4</text>
<text x="876.28" y="459.4" font-size="28.5" text-anchor="middle">0.6</text>
<text x="967.84" y="459.4" font-size="28.5" text-anchor="middle">0.8</text>
<text x="1059.4" y="459.4" font-size="28.5" text-anchor="middle">1</text>
<text x="575.7" y="60.7" font-size="28.5" text-anchor="end">0</text>
<text x="575.7" y="185.13" font-size="28.5" text-anchor="end">-1</text>
<text x="575.7" y="309.57" font-size="28.5" text-anchor="end">-2</text>
<text x="575.7" y="434" font-size="28.5" text-anchor="end">-3</text>
<text x="1105.35" y="461" font-size="28.5" text-anchor="middle">-1</text>
<text x="1224.07" y="461" font-size="28.5" text-anchor="middle">-0.5</text>
<text x="1343.65" y="461" font-size="28.5" text-anchor="middle">0</text>
<text x="1462.38" y="461" font-size="28.5" text-anchor="middle">0.5</text>
<text x="1581.1" y="461" font-size="28.5" text-anchor="middle">1</text>
<text x="1097.8" y="64.2" font-size="28.5" text-anchor="end">0</text>
<text x="1097.8" y="187.97" font-size="28.5" text-anchor="end">-1</text>
<text x="1097.8" y="311.73" font-size="28.5" text-anchor="end">-2</text>
<text x="1097.8" y="435.5" font-size="28.5" text-anchor="end">-3</text>
<text x="549.03" y="954.2" font-size="25.5" text-anchor="middle">-1</text>
<text x="690.44" y="954.2" font-size="25.5" text-anchor="middle">-0.5</text>
<text x="832.6" y="954.2" font-size="25.5" text-anchor="middle">0</text>
<text x="974" y="954.2" font-size="25.5" text-anchor="middle">0.5</text>
<text x="1115.4" y="954.2" font-size="25.5" text-anchor="middle">1</text>
<text x="540.6" y="549.7" font-size="25.5" text-anchor="end">0</text>
<text x="540.6" y="625.56" font-size="25.5" text-anchor="end">-0.2</text>
<text x="540.6" y="701.42" font-size="25.5" text-anchor="end">-0.4</text>
<text x="540.6" y="777.28" font-size="25.5" text-anchor="end">-0.6</text>
<text x="540.6" y="853.14" font-size="25.5" text-anchor="end">-0.8</text>
<text x="540.6" y="929" font-size="25.5" text-anchor="end">-1</text>
<text x="131.38" y="491.9" font-size="32">Dimensionless</text><text x="329.95" y="491.9" font-size="32" textLength="107.37" lengthAdjust="spacingAndGlyphs">Velocity</text><text x="450.1" y="493.9" font-size="35.51" textLength="24.19" lengthAdjust="spacingAndGlyphs">[-]</text>
<text x="649.38" y="496.6" font-size="32">Dimensionless</text><text x="847.95" y="496.6" font-size="32" textLength="107.37" lengthAdjust="spacingAndGlyphs">Velocity</text><text x="968.1" y="498.6" font-size="35.51" textLength="24.19" lengthAdjust="spacingAndGlyphs">[-]</text>
<text x="1171.88" y="495.2" font-size="32">Dimensionless</text><text x="1370.45" y="495.2" font-size="32" textLength="107.37" lengthAdjust="spacingAndGlyphs">Velocity</text><text x="1490.6" y="497.2" font-size="35.51" textLength="24.19" lengthAdjust="spacingAndGlyphs">[-]</text>
<text x="677.07" y="988" font-size="28.8">Dimensionless</text><text x="857.09" y="988" font-size="28.8" textLength="95.62" lengthAdjust="spacingAndGlyphs">Velocity</text><text x="964.88" y="989.8" font-size="32.61" textLength="21.85" lengthAdjust="spacingAndGlyphs">[-]</text>
<text transform="translate(23.3 271.1) rotate(-90)" font-size="29.3" font-style="italic" textLength="31.6" lengthAdjust="spacingAndGlyphs">kz</text><text transform="translate(25.9 225.9) rotate(-90)" font-size="35.6" textLength="22.9" lengthAdjust="spacingAndGlyphs">[-]</text>
<text transform="translate(489.4 765) rotate(-90)" font-size="27.7" font-style="italic" textLength="28.4" lengthAdjust="spacingAndGlyphs">kz</text><text transform="translate(491.5 724.2) rotate(-90)" font-size="33.3" textLength="21.1" lengthAdjust="spacingAndGlyphs">[-]</text>
<text x="485" y="402.3" font-size="30" style="fill:#000">(a)</text>
<text x="1012.3" y="406.3" font-size="30" style="fill:#000">(b)</text>
<text x="1530.2" y="415.1" font-size="30" style="fill:#000">(c)</text>
<text x="1060.2" y="898" font-size="27" style="fill:#000">(d)</text>
<line x1="463.2" y1="20.6" x2="557" y2="20.6" stroke="#2f4aa6" stroke-width="3.1" stroke-dasharray="18.8 11.2"/>
<line x1="703.3" y1="20.5" x2="797.2" y2="20.5" stroke="#e3161f" stroke-width="3.1" stroke-dasharray="15.5 5 4.2 5.1"/>
<line x1="962" y1="20.8" x2="1056.3" y2="20.8" stroke="#000" stroke-width="5.6" stroke-dasharray="4.5 3"/>
<text x="563.5" y="26.5" font-size="27.5" font-style="italic" style="fill:#000">V</text>
<text x="578.5" y="30.6" font-size="17" font-style="italic" style="fill:#000">s</text>
<text x="586.85" y="30.6" font-size="17" style="fill:#000">,</text>
<text x="591.5" y="30.6" font-size="17" font-style="italic" style="fill:#000">x</text>
<text x="603.7" y="27" font-size="28.3" style="fill:#000">(</text>
<text x="613.7" y="26.5" font-size="27.5" font-style="italic" style="fill:#000">z</text>
<text x="625.6" y="27" font-size="28.3" style="fill:#000">)</text>
<text x="636.3" y="32.6" font-size="38" style="fill:#000">/</text>
<text x="647.5" y="26.5" font-size="27.5" font-style="italic" style="fill:#000">V</text>
<text x="662.6" y="30.6" font-size="17" font-style="italic" style="fill:#000">s</text>
<text x="671.5" y="30.6" font-size="17" style="fill:#000">,</text>
<text x="675.15" y="30.6" font-size="17" style="fill:#000">0</text>
<text x="803.8" y="26.5" font-size="27.5" font-style="italic" style="fill:#000">V</text>
<text x="818.9" y="30.6" font-size="17" font-style="italic" style="fill:#000">s</text>
<text x="827.25" y="30.6" font-size="17" style="fill:#000">,</text>
<text x="832.3" y="30.6" font-size="17" font-style="italic" style="fill:#000">x</text>
<text x="842.25" y="30.6" font-size="17" style="fill:#000">,</text>
<text x="846.6" y="32.8" font-size="21" style="fill:#000">≈</text>
<text x="862.8" y="27" font-size="28.3" style="fill:#000">(</text>
<text x="872.7" y="26.5" font-size="27.5" font-style="italic" style="fill:#000">z</text>
<text x="884.7" y="27" font-size="28.3" style="fill:#000">)</text>
<text x="895" y="32.6" font-size="38" style="fill:#000">/</text>
<text x="906.8" y="26.5" font-size="27.5" font-style="italic" style="fill:#000">V</text>
<text x="922.1" y="30.6" font-size="17" font-style="italic" style="fill:#000">s</text>
<text x="930.55" y="30.6" font-size="17" style="fill:#000">,</text>
<text x="934.85" y="30.6" font-size="17" style="fill:#000">0</text>
<text x="1063" y="26.5" font-size="27.5" font-style="italic" style="fill:#000">V</text>
<text x="1078" y="30.6" font-size="17" font-style="italic" style="fill:#000">s</text>
<text x="1086.25" y="30.6" font-size="17" style="fill:#000">,</text>
<text x="1091.3" y="30.6" font-size="17" font-style="italic" style="fill:#000">x</text>
<text x="1101.35" y="30.6" font-size="17" style="fill:#000">,</text>
<text x="1106" y="32.8" font-size="21" style="fill:#000">≈</text>
<text x="1119.65" y="30.6" font-size="17" style="fill:#000">,</text>
<text x="1124.25" y="30.6" font-size="17" style="fill:#000">2</text>
<text x="1133.4" y="30.6" font-size="17" font-style="italic" style="fill:#000">n</text>
<text x="1143.3" y="30.6" font-size="17" font-style="italic" style="fill:#000">d</text>
<text x="1154.8" y="27" font-size="28.3" style="fill:#000">(</text>
<text x="1165.7" y="26.5" font-size="27.5" font-style="italic" style="fill:#000">z</text>
<text x="1177.7" y="27" font-size="28.3" style="fill:#000">)</text>
<text x="1188" y="32.6" font-size="38" style="fill:#000">/</text>
<text x="1199.8" y="26.5" font-size="27.5" font-style="italic" style="fill:#000">V</text>
<text x="1214.1" y="30.6" font-size="17" font-style="italic" style="fill:#000">s</text>
<text x="1223.15" y="30.6" font-size="17" style="fill:#000">,</text>
<text x="1226.25" y="30.6" font-size="17" style="fill:#000">0</text>
</svg></body></html>
